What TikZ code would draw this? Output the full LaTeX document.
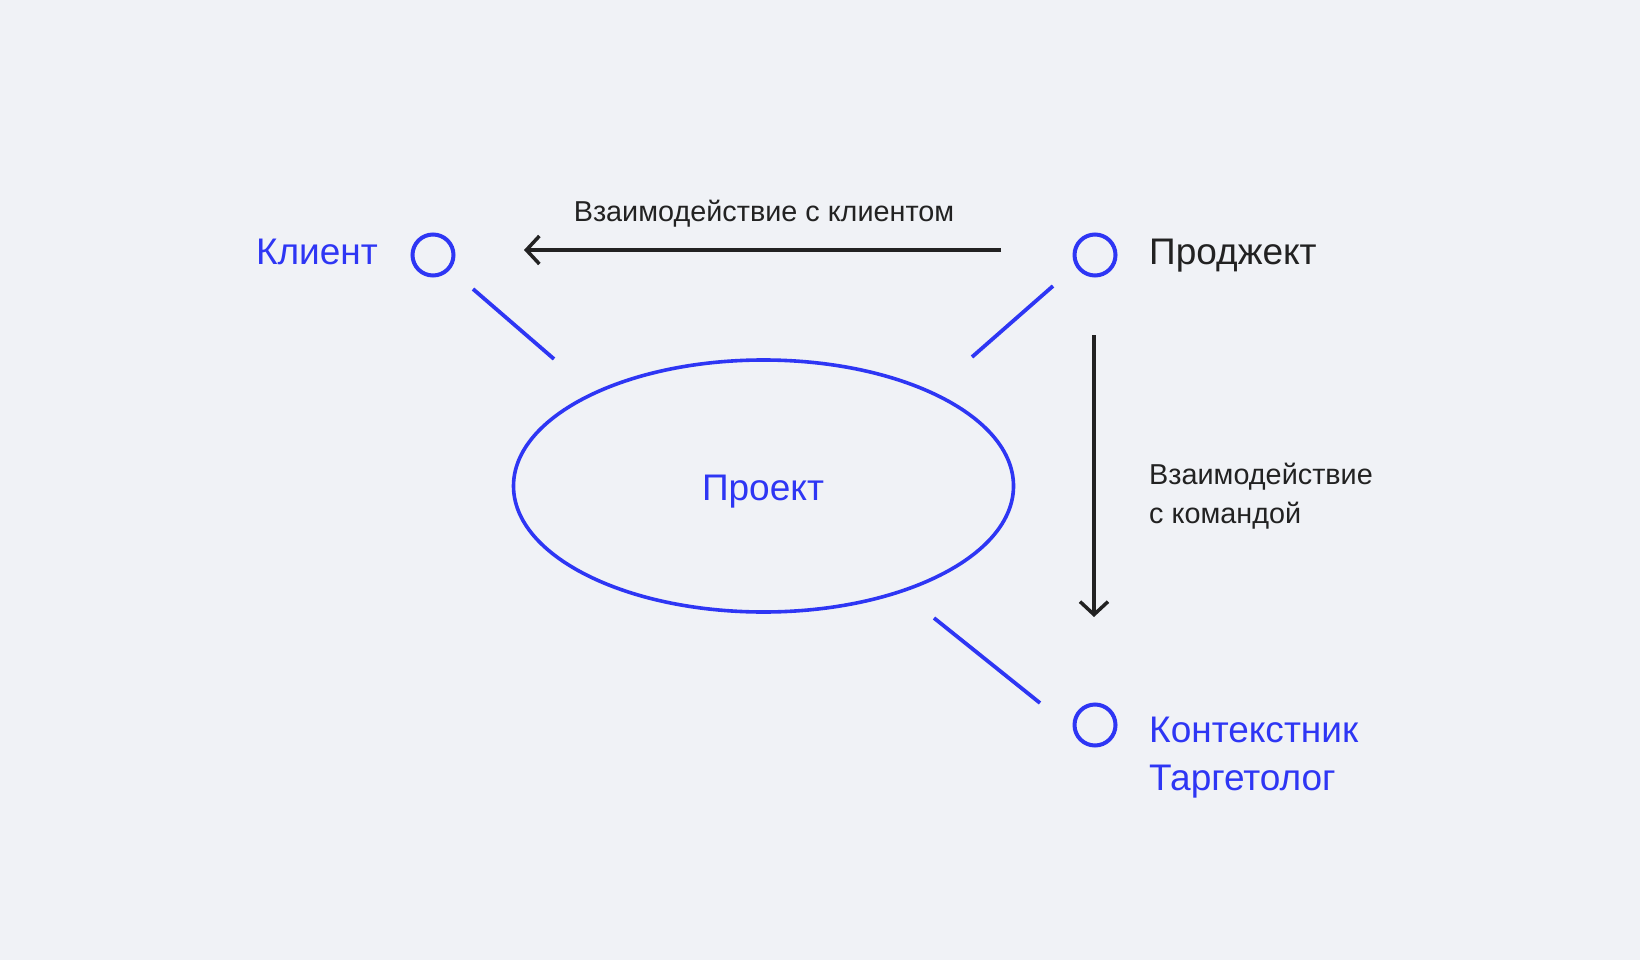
\documentclass[tikz,border=0pt]{standalone}
\usepackage{fontspec}
\setmainfont{Liberation Sans}
\usetikzlibrary{shapes.geometric,arrows.meta}
\definecolor{bg}{RGB}{240,242,246}
\definecolor{accent}{RGB}{46,54,244}
\definecolor{ink}{RGB}{34,34,34}
\tikzset{
  big/.style={font=\fontsize{37}{48}\selectfont, inner sep=0pt},
  small/.style={font=\fontsize{28.8}{39}\selectfont, inner sep=0pt, text=ink},
  dot/.style={circle, draw=accent, line width=4pt, minimum size=41pt, inner sep=0pt},
  link/.style={draw=accent, line width=3.8pt},
  flow/.style={draw=ink, line width=3.5pt, -{Straight Barb[length=13pt,width=28pt,line width=3.5pt]}},
}
\begin{document}
\begin{tikzpicture}[x=1pt,y=-1pt]
\fill[bg] (0,0) rectangle (1640,960);
\useasboundingbox (0,0) rectangle (1640,960);

% nodes
\node[dot] (kc) at (433,255) {};
\node[dot] (pc) at (1095,255) {};
\node[dot] (tc) at (1095,725) {};
\node[ellipse, draw=accent, line width=3.6pt, minimum width=500pt, minimum height=252pt, inner sep=0pt] (proj) at (763.5,486) {};

% labels
\node[big, text=accent, anchor=base east] (kl) at (378,264) {Клиент};
\node[big, text=ink, anchor=base west] (pl) at (1149,264) {Проджект};
\node[big, text=accent, anchor=base] (prl) at (763,500) {Проект};
\node[big, text=accent, anchor=base west, align=left] (tl) at (1149,790) {Контекстник\\Таргетолог};
\node[small, anchor=base] (al1) at (764,221) {Взаимодействие с клиентом};
\node[small, anchor=base west, align=left] (al2) at (1149,523) {Взаимодействие\\с командой};

% link end points
\coordinate (k1) at (473,289);
\coordinate (k2) at (554,359);
\coordinate (p1) at (1053,286);
\coordinate (p2) at (972,357);
\coordinate (t1) at (934,618);
\coordinate (t2) at (1040,703);
\coordinate (h1) at (1001,250);
\coordinate (h2) at (524,250);
\coordinate (v1) at (1094,335);
\coordinate (v2) at (1094,617);

\draw[link] (k1) -- (k2);
\draw[link] (p1) -- (p2);
\draw[link] (t1) -- (t2);
\draw[flow] (h1) -- (h2);
\draw[flow] (v1) -- (v2);
\end{tikzpicture}
\end{document}
